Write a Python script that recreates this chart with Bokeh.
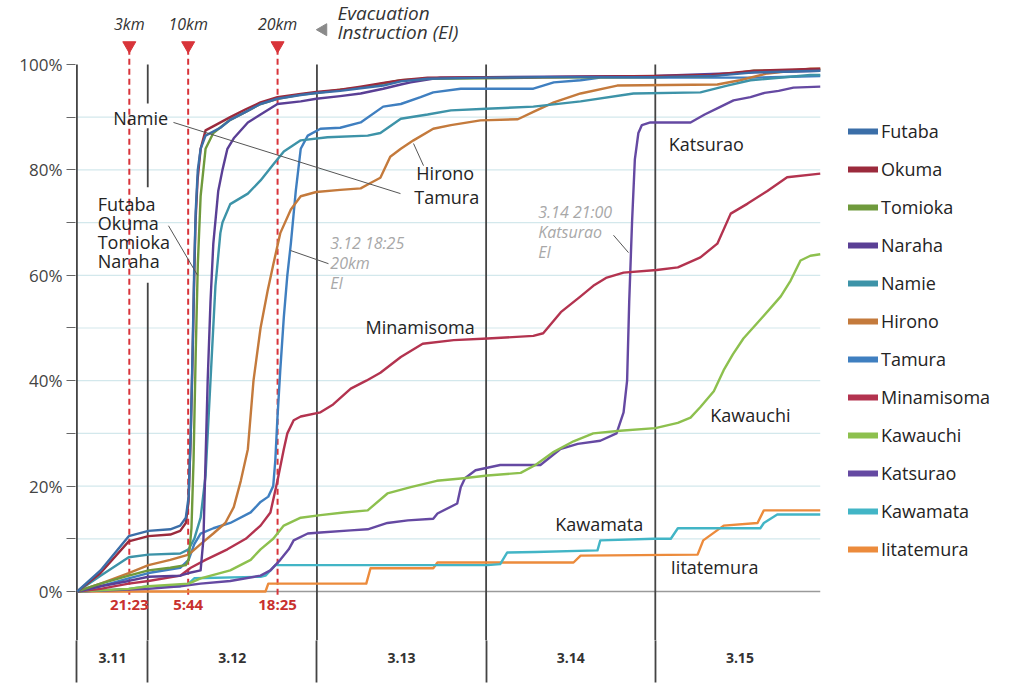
import math
from bokeh.plotting import figure
from bokeh.models import (Range1d, FixedTicker, PrintfTickFormatter, Legend, LegendItem)
from bokeh.core.properties import value
from bokeh.embed import file_html
from bokeh.resources import INLINE

# ---------------- data (x = hours since 3.11 00:00, y = % evacuated) ----------------
day_labels = ["3.11", "3.12", "3.13", "3.14", "3.15"]
day_centers = [19, 36, 60, 84, 108]
day_bounds = [13.95, 24, 48, 72, 96]
y_ticks = [0, 20, 40, 60, 80, 100]
y_minor = [10, 30, 50, 70, 90]
grid_levels = [10, 20, 30, 40, 50, 60, 70, 80, 90]

ei_hours = [21 + 23 / 60, 29 + 44 / 60, 42 + 25 / 60]
ei_time_labels = ["21:23", "5:44", "18:25"]
ei_radius_labels = ["3km", "10km", "20km"]

names = ["Futaba", "Okuma", "Tomioka", "Naraha", "Namie", "Hirono", "Tamura",
         "Minamisoma", "Kawauchi", "Katsurao", "Kawamata", "Iitatemura"]
colors = ["#3b6ea8", "#9b2a3c", "#6f9a3c", "#5a3f95", "#3d93a8", "#c47a3c", "#3f7fc0",
          "#b3334f", "#8dc04e", "#6549a2", "#42b5c6", "#ec8b3c"]

futaba_h = [14, 17.3, 21.3, 24.1, 27.2, 28.6, 29.4, 29.8, 30.1, 30.35, 30.6, 30.8, 31.1, 31.5, 32.2,
            34.3, 35.7, 37.9, 40, 42.4, 45.7, 47.9, 51.3, 54.2, 57.4, 59.9, 63.7, 72, 80, 96, 104, 110, 119.4]
futaba_p = [0, 4, 10.5, 11.5, 11.8, 12.5, 14, 18, 30, 45, 62, 72, 80, 84, 86.5,
            88, 89.5, 91, 92.5, 93.5, 94.2, 94.6, 95, 95.5, 96, 96.8, 97.3, 97.5, 97.6, 97.6, 97.8, 98.5, 98.8]

okuma_h = [14, 17.3, 21.3, 24.1, 27.2, 28.6, 29.4, 29.78, 30.06, 30.35, 30.6, 30.77, 31.06, 31.5, 32.2,
           33.6, 35.7, 37.9, 40, 42.4, 45.7, 47.9, 51.3, 54.2, 57.4, 59.9, 63.7, 80, 96, 104, 110, 119.4]
okuma_p = [0, 3.5, 9.5, 10.5, 10.8, 11.5, 13, 17, 28, 44, 60, 70, 78, 84, 87.5,
           88.5, 90, 91.5, 92.8, 93.8, 94.4, 94.8, 95.2, 95.8, 96.5, 97, 97.5, 97.6, 97.8, 98, 98.8, 99.2]

tomioka_h = [14, 17.3, 21.3, 24.1, 27.2, 29.4, 29.8, 30.2, 30.5, 30.8, 31.1, 31.5, 32.2, 33.3, 35.7,
             37.9, 40, 42.4, 45.7, 47.9, 51.3, 54.2, 57.4, 59.9, 63.7, 80, 96, 104, 110, 119.4]
tomioka_p = [0, 1.5, 3, 4, 4.5, 5, 6, 12, 25, 45, 62, 75, 84, 87, 89.5,
             91, 92.5, 93.5, 94.3, 94.6, 95.2, 95.6, 96.4, 97, 97.3, 97.5, 97.6, 97.8, 98.8, 99]

naraha_h = [14, 17.3, 21.3, 24.1, 28.6, 29.8, 31.5, 31.9, 32.2, 32.5, 32.9, 33.3, 34.0, 34.6, 35.3,
            36.2, 38.2, 40, 42.4, 45.7, 47.9, 51.3, 54.2, 57.4, 59.9, 61.3, 65.5, 72, 96, 110, 119.4]
naraha_p = [0, 1, 2, 2.8, 3, 3.5, 4, 10, 25, 40, 55, 66, 76, 80, 84,
            86, 89, 90.5, 92.5, 93, 93.5, 94, 94.5, 95.4, 96.2, 96.6, 97.5, 97.6, 97.8, 98.5, 98.8]

namie_h = [14, 17.3, 21.3, 24.1, 28.6, 29.8, 30.6, 31.5, 32.2, 32.9, 33.6, 34.3, 34.6, 35.7, 38.2,
           40, 41.8, 43.3, 45.7, 49.5, 55.2, 57, 59.9, 63.7, 67, 72, 78.7, 85.4, 92.9, 102.4, 106.2,
           109.5, 118, 119.4]
namie_p = [0, 3, 6.5, 7, 7.2, 8, 10, 14, 22, 40, 58, 68, 70, 73.5, 75.5,
           78, 81, 83.5, 85.6, 86.2, 86.5, 87, 89.7, 90.5, 91.3, 91.6, 92, 93, 94.5, 94.7, 96,
           97, 98, 98]

hirono_h = [14, 17.3, 21.3, 24.1, 27.2, 29.8, 31.5, 33.3, 35.0, 36.2, 37.2, 38.2, 39, 40, 41,
            41.8, 42.8, 44.3, 45.7, 47.9, 51.3, 54.2, 55.6, 57.0, 58.4, 59.9, 61.7, 64.5, 67, 71.2,
            76.5, 78.7, 81.6, 85.4, 90.6, 104.8, 108, 111.9, 118, 119.4]
hirono_p = [0, 1.5, 3.5, 5, 6, 7, 9, 11, 13, 16, 21, 27, 40, 50, 57,
            62, 68, 72.5, 75, 75.8, 76.2, 76.5, 77.5, 78.5, 82.5, 84, 85.6, 87.8, 88.5, 89.4,
            89.6, 91, 92.8, 94.5, 96, 96.2, 97, 98.3, 99.2, 99.2]

tamura_h = [14, 17.3, 21.3, 24.1, 28.6, 29.8, 30.6, 31.5, 33.3, 35.7, 38.6, 40, 41.1, 41.8, 42.1,
            42.4, 42.8, 43.3, 43.8, 44.3, 45.0, 45.7, 46.7, 48.5, 51.3, 54.2, 57.4, 59.9, 62.7, 64.5,
            68.4, 78.7, 81.6, 85.4, 88.2, 110, 119.4]
tamura_p = [0, 1, 2.5, 3.5, 4.5, 6, 9, 11, 12, 13, 15, 17, 18, 20, 25,
            33, 42, 52, 60, 66, 76, 84, 86.5, 87.8, 88, 89, 92, 92.5, 93.8, 94.7,
            95.4, 95.4, 96.6, 97, 97.5, 97.5, 97.8]

minamisoma_h = [14, 17.3, 21.3, 24.1, 28.6, 30.1, 32.2, 35.3, 37.9, 40, 41.4, 42.4, 43.3, 43.8, 44.7,
                45.7, 48.5, 50.3, 52.8, 55, 57, 59.9, 63, 67.4, 72.2, 78.7, 80.1, 82.6, 85.4, 87.2,
                89, 91.5, 96.2, 99.2, 102.4, 104.8, 106.7, 109.1, 111.9, 114.7, 119.4]
minamisoma_p = [0, 0.5, 1.5, 2, 3, 4.5, 6, 8, 10, 12.5, 15, 21, 27, 30, 32.5,
                33.2, 34, 35.5, 38.5, 40, 41.5, 44.5, 47, 47.7, 48, 48.5, 49, 53, 56, 58,
                59.5, 60.5, 61, 61.5, 63.4, 66, 71.7, 73.6, 76, 78.6, 79.3]

kawauchi_h = [14, 21.3, 24.1, 29.8, 31.5, 35.7, 38.6, 40, 41.8, 43.3, 45.7, 48.5, 51.8, 55.2, 58,
              61.3, 65, 68.8, 72.2, 76.9, 79, 81.6, 84.4, 87.2, 91, 96, 99.2, 101, 102.4, 104.3,
              105.7, 107, 108.5, 110.5, 112.5, 113.8, 115.2, 116.6, 118, 119.4]
kawauchi_p = [0, 0.5, 1, 1.5, 2.5, 4, 6, 8, 10, 12.5, 14, 14.5, 15, 15.4, 18.6,
              19.8, 21, 21.5, 22, 22.5, 24, 26.5, 28.5, 30, 30.5, 31, 32, 33, 35, 38,
              42, 45, 48, 51, 54, 56, 59, 62.8, 63.7, 64]

katsurao_h = [14, 24.1, 28.6, 31.5, 35.7, 40, 41.4, 42.8, 44, 44.7, 46.7, 48.5, 52.8, 55.2, 58,
              60.9, 64.5, 65.1, 67.9, 68.4, 69, 70.5, 74, 79.7, 82.5, 85, 88.2, 90.5, 91.5, 92.0,
              92.3, 92.7, 93.1, 93.6, 94.1, 95.3, 101, 103, 105, 107.1, 109.5, 111.5, 113.5, 115.6, 119.4]
katsurao_p = [0, 0.5, 1, 1.5, 2, 3, 4, 6, 8, 9.7, 11, 11.2, 11.6, 11.8, 13,
              13.5, 13.8, 14.8, 16.7, 19.8, 21.5, 23, 24, 24, 27, 28, 28.6, 30, 34, 40,
              55, 70, 82, 87, 88.5, 89, 89, 90.5, 91.8, 93.2, 93.8, 94.6, 95, 95.6, 95.8]

kawamata_h = [14, 21.3, 24.1, 28.6, 29.8, 30.6, 40, 40.7, 41.4, 42.1, 47.9, 72.2, 74, 75, 79,
              87.8, 88.2, 95.8, 98.2, 99.2, 110.9, 111.4, 113.3, 119.4]
kawamata_p = [0, 0.5, 1, 1, 1.5, 2.5, 2.8, 3, 4, 5, 5, 5, 5.2, 7.4, 7.5,
              7.8, 9.7, 10, 10, 12, 12, 13, 14.6, 14.6]

iitatemura_h = [14, 40.7, 41.1, 55, 55.6, 64.5, 65.1, 84.4, 85.4, 102, 102.8, 105.7, 110.5, 111.4, 119.4]
iitatemura_p = [0, 0, 1.5, 1.5, 4.4, 4.4, 5.5, 5.5, 6.8, 7, 9.7, 12.5, 13, 15.4, 15.4]

series_h = [futaba_h, okuma_h, tomioka_h, naraha_h, namie_h, hirono_h, tamura_h,
            minamisoma_h, kawauchi_h, katsurao_h, kawamata_h, iitatemura_h]
series_p = [futaba_p, okuma_p, tomioka_p, naraha_p, namie_p, hirono_p, tamura_p,
            minamisoma_p, kawauchi_p, katsurao_p, kawamata_p, iitatemura_p]

# ---------------- figure ----------------
X0, X1 = 13.75, 147.24
Y0, Y1 = -9.30, 112.14
FONT = "Open Sans"
DARK = "#333333"
LABEL = "#242424"

p = figure(width=1016, height=696, x_range=Range1d(X0, X1), y_range=Range1d(Y0, Y1),
           output_backend="svg", toolbar_location=None,
           min_border_left=75, min_border_right=0, min_border_top=0, min_border_bottom=56)
p.outline_line_color = None
p.xgrid.visible = False
p.ygrid.visible = False
p.background_fill_color = "white"

x_last = max(h[-1] for h in series_h)

# grid lines
p.segment(x0=[day_bounds[0]] * len(grid_levels), y0=grid_levels,
          x1=[x_last] * len(grid_levels), y1=grid_levels, line_color="#d3e8ec", line_width=1.2)
p.segment(x0=[day_bounds[0]], y0=[0], x1=[x_last], y1=[0], line_color="#9a9a9a", line_width=1.6)

# left axis line + day separators (gaps for labels on the 3.12 midnight line)
sep_x0 = [day_bounds[0], 24, 24, 24, 48, 72, 96]
sep_top = [100, 100, 87.9, 58.6, 100, 100, 100]
sep_bot = [Y0, 92.6, 76.7, Y0, Y0, Y0, Y0]
p.segment(x0=sep_x0, y0=sep_top, x1=sep_x0, y1=sep_bot, line_color="#444444", line_width=1.8)

# evacuation instruction markers
p.segment(x0=ei_hours, y0=[103] * 3, x1=ei_hours, y1=[-1.2] * 3,
          line_color="#d8343a", line_width=2, line_dash="6 4")
p.scatter(x=ei_hours, y=[103.6] * 3, marker="inverted_triangle", size=13,
          fill_color="#d8343a", line_color="#d8343a")
p.text(x=ei_hours, y=[107.6] * 3, text=ei_radius_labels, text_align="center", text_baseline="middle",
       text_font=value(FONT), text_font_size=value("16px"), text_font_style="italic", text_color=DARK)
p.text(x=ei_hours, y=[-2.4] * 3, text=ei_time_labels, text_align="center", text_baseline="middle",
       text_font=value(FONT), text_font_size=value("15px"), text_font_style="bold", text_color="#c8302e")
p.scatter(x=[48.9], y=[106.6], marker="triangle", angle=math.pi / 2, size=12,
          fill_color="#8a8a8a", line_color="#8a8a8a")
p.text(x=[50.9, 50.9], y=[109.7, 106.1], text=["Evacuation", "Instruction (EI)"],
       text_align="left", text_baseline="middle", text_font=value(FONT),
       text_font_size=value("19px"), text_font_style="italic", text_color=DARK)

# data lines (drawn bottom-up)
for i in reversed(range(len(names))):
    p.line(series_h[i], series_p[i], line_color=colors[i], line_width=2.4, line_join="round")

# leader lines
p.segment(x0=[27.65, 26.94, 63.12, 49.64, 90.07], y0=[89.0, 69.4, 80.8, 62.2, 67.6],
          x1=[59.85, 31.06, 61.70, 44.25, 92.20], y1=[75.5, 60.0, 85.0, 64.7, 64.3],
          line_color="#555555", line_width=1)

# series labels
lab_x = [16.9, 16.9, 16.9, 16.9, 62.1, 61.8, 54.9, 97.9, 103.8, 81.8, 98.2]
lab_y = [73.6, 70.0, 66.4, 62.8, 79.5, 74.8, 50.1, 85.0, 33.4, 12.9, 4.6]
lab_t = ["Futaba", "Okuma", "Tomioka", "Naraha", "Hirono", "Tamura", "Minamisoma",
         "Katsurao", "Kawauchi", "Kawamata", "Iitatemura"]
p.text(x=lab_x, y=lab_y, text=lab_t, text_align="left", text_baseline="middle",
       text_font=value(FONT), text_font_size=value("18px"), text_color=LABEL)
p.text(x=[23.0], y=[89.9], text=["Namie"], text_align="center", text_baseline="middle",
       text_font=value(FONT), text_font_size=value("18px"), text_color=LABEL)

# grey italic notes
p.text(x=[49.9] * 3 + [79.4] * 3, y=[66.2, 62.3, 58.5, 72.1, 68.3, 64.5],
       text=["3.12 18:25", "20km", "EI", "3.14 21:00", "Katsurao", "EI"],
       text_align="left", text_baseline="middle", text_font=value(FONT),
       text_font_size=value("16px"), text_font_style="italic", text_color="#a8a8a8")

# legend (thick swatches via hidden one-point renderers)
nan = float("nan")
items = []
for i, nm in enumerate(names):
    r = p.line(x=[nan], y=[nan], line_color=colors[i], line_width=6, line_cap="round")
    items.append(LegendItem(label=nm, renderers=[r]))
legend = Legend(items=items, location=(773, 79), orientation="vertical",
                glyph_width=30, glyph_height=24, label_height=24, spacing=14,
                label_standoff=3, padding=0, margin=0,
                border_line_color=None, background_fill_alpha=0,
                label_text_font=FONT, label_text_font_size="18px", label_text_color=LABEL)
p.add_layout(legend)

# y axis
ya = p.yaxis[0]
ya.ticker = FixedTicker(ticks=y_ticks, minor_ticks=y_minor)
ya.formatter = PrintfTickFormatter(format="%d%%")
ya.axis_line_color = None
ya.major_tick_out = 9
ya.major_tick_in = 0
ya.minor_tick_out = 9
ya.minor_tick_in = 0
ya.major_tick_line_color = "#666666"
ya.minor_tick_line_color = "#666666"
ya.major_label_standoff = 4
ya.major_label_text_font = FONT
ya.major_label_text_font_size = "17px"
ya.major_label_text_color = "#444444"

# x axis: day labels centred, separators as minor ticks
xa = p.xaxis[0]
xa.ticker = FixedTicker(ticks=day_centers, minor_ticks=day_bounds)
xa.major_label_overrides = {c: l for c, l in zip(day_centers, day_labels)}
xa.axis_line_color = None
xa.major_tick_line_color = None
xa.major_tick_out = 0
xa.major_tick_in = 0
xa.minor_tick_out = 42
xa.minor_tick_in = 0
xa.minor_tick_line_color = "#444444"
xa.minor_tick_line_width = 1.8
xa.major_label_standoff = -30
xa.major_label_text_font = FONT
xa.major_label_text_font_size = "14px"
xa.major_label_text_font_style = "bold"
xa.major_label_text_color = DARK

open("out.html", "w").write(file_html(p, INLINE))
